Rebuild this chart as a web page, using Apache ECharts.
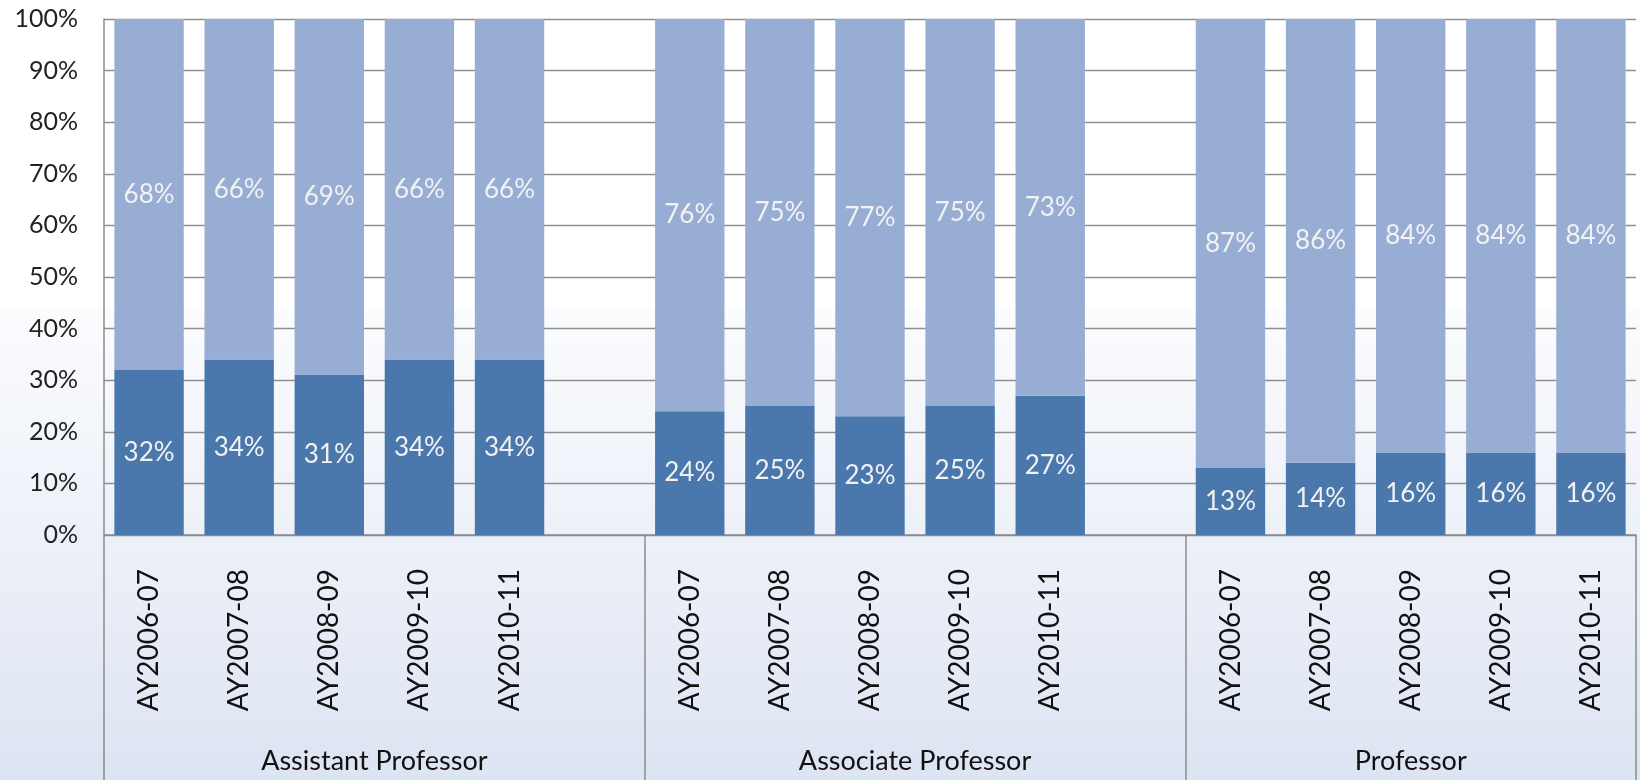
<!DOCTYPE html>
<html>
<head>
<meta charset="utf-8">
<script src="https://cdn.jsdelivr.net/npm/echarts@6/dist/echarts.min.js"></script>
<style>
  html, body { margin: 0; padding: 0; background: #fff; }
  #chart { width: 1640px; height: 780px; }
</style>
</head>
<body>
<div id="chart"></div>
<script>
var years = ['AY2006-07', 'AY2007-08', 'AY2008-09', 'AY2009-10', 'AY2010-11'];
var groups = ['Assistant Professor', 'Associate Professor', 'Professor'];
// lower (dark) segment per group, upper (light) segment per group
var lowerShare = [[32, 34, 31, 34, 34], [24, 25, 23, 25, 27], [13, 14, 16, 16, 16]];
var upperShare = [[68, 66, 69, 66, 66], [76, 75, 77, 75, 73], [87, 86, 84, 84, 84]];
var yTicks = [0, 10, 20, 30, 40, 50, 60, 70, 80, 90, 100];

// flatten groups, one empty slot after each group except the last
var cats = [], lowData = [], upData = [];
groups.forEach(function (g, gi) {
  years.forEach(function (y, yi) {
    cats.push(y);
    lowData.push(lowerShare[gi][yi]);
    upData.push(upperShare[gi][yi]);
  });
  if (gi < groups.length - 1) {
    cats.push('');
    lowData.push('-');
    upData.push('-');
  }
});

// helper axis on half-category steps, for group names and separators
var halfCount = cats.length * 2 + 1;
var groupAxis = [];
for (var i = 0; i < halfCount; i++) groupAxis.push('');
var groupStart = [0, 6, 12];
var groupEnd = [6, 12, cats.length];
var sepIdx = [];
groups.forEach(function (g, gi) {
  var lastBar = groupStart[gi] + years.length; // end of real bars
  groupAxis[groupStart[gi] + (gi < 2 ? groupEnd[gi] : lastBar)] = g;
  sepIdx.push(groupStart[gi] * 2);
});
sepIdx.push(cats.length * 2);

var labelFont = 'Lato, "DejaVu Sans", sans-serif';

var chart = echarts.init(document.getElementById('chart'));
var option = {
  animation: false,
  backgroundColor: '#ffffff',
  graphic: [{
    type: 'rect',
    z: -100,
    silent: true,
    shape: { x: 0, y: 310, width: 1640, height: 470 },
    style: {
      fill: new echarts.graphic.LinearGradient(0, 0, 0, 1, [
        { offset: 0, color: '#fbfcfe' },
        { offset: 1, color: '#dde4f2' }
      ])
    }
  }],
  grid: { left: 104, right: 4, top: 19, bottom: 245, containLabel: false },
  xAxis: [{
    type: 'category',
    data: cats,
    axisLine: { show: true, lineStyle: { color: '#8c8c8c', width: 1.5 } },
    axisTick: { show: false },
    axisLabel: {
      interval: 0,
      rotate: 90,
      margin: 34,
      fontSize: 28,
      fontFamily: labelFont,
      color: '#111'
    }
  }, {
    type: 'category',
    position: 'bottom',
    boundaryGap: false,
    data: groupAxis,
    axisLine: { show: false },
    axisTick: {
      show: true,
      length: 250,
      interval: function (idx) { return sepIdx.indexOf(idx) >= 0; },
      lineStyle: { color: '#8c8c8c', width: 1.5 }
    },
    axisLabel: {
      interval: function (idx, val) { return val !== ''; },
      margin: 213,
      fontSize: 27,
      fontFamily: labelFont,
      color: '#111'
    }
  }],
  yAxis: {
    type: 'value',
    min: 0,
    max: 100,
    interval: 10,
    axisLine: { show: true, lineStyle: { color: '#8c8c8c', width: 1.5 } },
    axisTick: { show: false },
    splitLine: { show: true, lineStyle: { color: '#8f8f8f', width: 1.3 } },
    axisLabel: {
      margin: 26,
      fontSize: 25,
      fontFamily: labelFont,
      color: '#222',
      formatter: function (v) { return yTicks.indexOf(v) >= 0 ? v + '%' : ''; }
    }
  },
  series: [{
    name: 'lower',
    type: 'bar',
    stack: 'total',
    barWidth: '77%',
    data: lowData,
    itemStyle: { color: '#4a77ac' },
    label: {
      show: true,
      position: 'inside',
      fontSize: 26,
      fontFamily: labelFont,
      color: '#f2f2f2',
      formatter: '{c}%'
    }
  }, {
    name: 'upper',
    type: 'bar',
    stack: 'total',
    barWidth: '77%',
    data: upData,
    itemStyle: { color: '#98add3' },
    label: {
      show: true,
      position: 'inside',
      fontSize: 26,
      fontFamily: labelFont,
      color: '#f2f2f2',
      formatter: '{c}%'
    }
  }]
};
chart.setOption(option);
</script>
</body>
</html>
